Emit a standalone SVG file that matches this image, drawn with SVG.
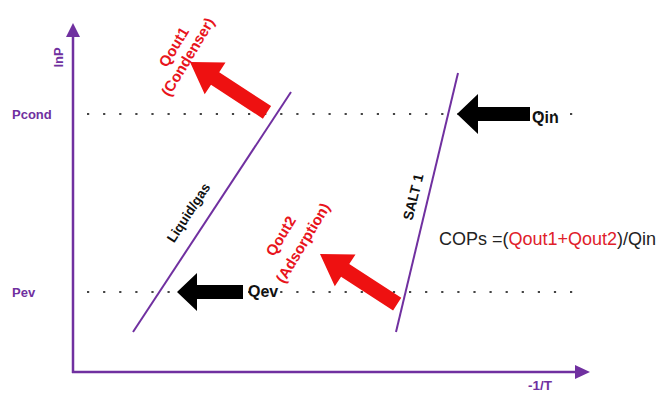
<svg xmlns="http://www.w3.org/2000/svg" width="656" height="398" viewBox="0 0 656 398">
<style>
.axis{stroke:#7030a0;stroke-width:2.5;fill:none}
.curve{stroke:#7030a0;stroke-width:2;fill:none}
.dots{stroke:#444;stroke-width:2.2;stroke-dasharray:2.2 13.9;fill:none}
.lbl{font-family:"Liberation Sans",Arial,sans-serif;font-weight:bold;fill:#7030a0}
.blk{font-family:"Liberation Sans",Arial,sans-serif;font-weight:bold;fill:#111}
.red{font-family:"Liberation Sans",Arial,sans-serif;font-weight:bold;fill:#e8141c}
.redarrow{fill:#ee1111}
.blkarrow{fill:#000}
</style>
<defs>
<path id="redarr" d="M0,0 L-30,-19 L-30,-7.5 L-92,-7.5 L-92,7.5 L-30,7.5 L-30,19 Z"/>
</defs>
<rect width="656" height="398" fill="#fff"/>
<g id="axes">
<line class="axis" x1="73" y1="34" x2="73" y2="373"/>
<path d="M73,23 L66,37 L80,37 Z" fill="#7030a0"/>
<line class="axis" x1="72" y1="372" x2="578" y2="372"/>
<path d="M590,372 L575,365 L575,379 Z" fill="#7030a0"/>
<text class="lbl" font-size="13" transform="translate(63,57.5) rotate(-90)" text-anchor="middle">lnP</text>
<text class="lbl" font-size="13.5" x="528" y="390">-1/T</text>
<text class="lbl" font-size="13" x="12" y="119">Pcond</text>
<text class="lbl" font-size="13" x="12" y="297">Pev</text>
</g>
<g id="levels">
<line class="dots" x1="87" y1="114" x2="573" y2="114"/>
<line class="dots" x1="87" y1="292" x2="573" y2="292"/>
</g>
<g id="liquid-gas">
<line class="curve" x1="133" y1="332" x2="291" y2="92"/>
<text class="blk" font-size="13.5" transform="translate(189,213) rotate(-57)" text-anchor="middle" y="4">Liquid/gas</text>
</g>
<g id="salt1">
<line class="curve" x1="396" y1="332" x2="458" y2="73"/>
<text class="blk" font-size="14" transform="translate(413,197) rotate(-76)" text-anchor="middle" y="5">SALT 1</text>
</g>
<g id="connectors">
<path class="blkarrow" d="M457,114 L478,94 L478,107 L530,107 L530,121 L478,121 L478,134 Z"/>
<path class="blkarrow" d="M177,292 L197,273 L197,285 L243,285 L243,299 L197,299 L197,311 Z"/>
<use href="#redarr" class="redarrow" transform="translate(190,62) rotate(213.2)"/>
<use href="#redarr" class="redarrow" transform="translate(320,254) rotate(213)"/>
</g>
<g id="qin">
<text class="blk" font-size="16" x="532" y="123">Qin</text>
</g>
<g id="qev">
<text class="blk" font-size="16" x="248" y="297">Qev</text>
</g>
<g id="qout1">
<text class="red" font-size="15" transform="translate(174,47) rotate(-59)" text-anchor="middle" y="5">Qout1</text>
<text class="red" font-size="15" transform="translate(188,57) rotate(-59)" text-anchor="middle" y="5">(Condenser)</text>
</g>
<g id="qout2">
<text class="red" font-size="15" transform="translate(281,236) rotate(-59)" text-anchor="middle" y="5">Qout2</text>
<text class="red" font-size="15" transform="translate(303,243) rotate(-59)" text-anchor="middle" y="5">(Adsorption)</text>
</g>
<g id="cops">
<text font-family="Liberation Sans,Arial,sans-serif" font-size="18" x="439" y="245" fill="#222">COPs =(<tspan fill="#e0202a">Qout1+Qout2</tspan>)/Qin</text>
</g>
</svg>
